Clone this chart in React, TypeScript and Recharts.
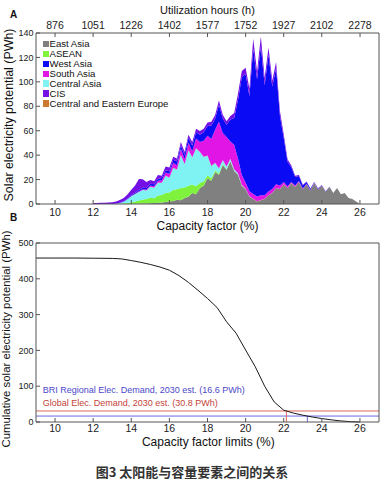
import React from "react";
import { AreaChart, Area, LineChart, Line, XAxis, YAxis, ReferenceLine } from "recharts";

const FONT = '"Liberation Sans", Arial, Helvetica, sans-serif';
const CJK = '"Noto Sans CJK SC", sans-serif';
const AXIS_COLOR = "#555";

// shared axes
const CF_DOMAIN = [9, 27];
const CF_TICKS = [10, 12, 14, 16, 18, 20, 22, 24, 26];
const HOURS_PER_PCT = 87.6;
const HOUR_TICKS = [876, 1051, 1226, 1402, 1577, 1752, 1927, 2102, 2278];
const POTENTIAL_TICKS = [0, 20, 40, 60, 80, 100, 120, 140];
const CUMULATIVE_TICKS = [0, 100, 200, 300, 400, 500];

// panel A: potential per capacity-factor bin (PWh)
const CF_BINS = [
  12.0, 12.2, 12.4, 12.6, 12.8, 13.0, 13.2, 13.4, 13.6, 13.8,
  14.0, 14.2, 14.4, 14.6, 14.8, 15.0, 15.2, 15.4, 15.6, 15.8,
  16.0, 16.2, 16.4, 16.6, 16.8, 17.0, 17.2, 17.4, 17.6, 17.8,
  18.0, 18.2, 18.4, 18.6, 18.8, 19.0, 19.2, 19.4, 19.6, 19.8,
  20.0, 20.2, 20.4, 20.6, 20.8, 21.0, 21.2, 21.4, 21.6, 21.8,
  22.0, 22.2, 22.4, 22.6, 22.8, 23.0, 23.2, 23.4, 23.6, 23.8,
  24.0, 24.2, 24.4, 24.6, 24.8, 25.0, 25.2, 25.4, 25.6, 25.8,
  26.0,
];
const EAST_ASIA = [
  0, 0, 0, 0, 0, 0, 0, 0, 0, 0.1,
  0.1, 0.2, 0.3, 0.4, 0.5, 0.6, 0.8, 1, 1.3, 1.6,
  2, 2.5, 3.5, 3, 5, 6, 9, 8, 13, 15,
  21, 19, 26, 24, 32, 28, 35, 27, 24, 15,
  12, 6, 4, 2, 3, 4, 7, 9, 13, 12,
  16, 13, 17, 14, 18, 12, 16, 11, 17, 12,
  15, 10, 14, 9, 13, 8, 9, 5, 4, 2,
  0,
];
const ASEAN = [
  0, 0, 0, 0, 0, 0, 0.1, 0.2, 0.4, 0.7,
  1.2, 1.8, 2.5, 3, 3.5, 4.5, 4, 6, 6, 7.5,
  7.5, 9, 8.5, 10, 8.5, 9, 7, 6.5, 4.5, 3.5,
  2.5, 2, 1.5, 1, 0.8, 0.5, 0.3, 0.2, 0.1, 0,
  0, 0, 0, 0, 0, 0, 0, 0, 0, 0,
  0, 0, 0, 0, 0, 0, 0, 0, 0, 0,
  0, 0, 0, 0, 0, 0, 0, 0, 0, 0,
  0,
];
const WEST_ASIA = [
  0, 0, 0, 0, 0, 0, 0, 0.2, 0.3, 0.4,
  0.6, 0.8, 1, 1.2, 1.2, 1.4, 1.5, 1.6, 1.8, 2,
  2.2, 2.5, 3, 3, 3.5, 4, 4.5, 5, 6, 7,
  8, 11, 9, 14, 12, 10, 18, 22, 48, 80,
  89, 78, 119, 96, 122, 90, 112, 84, 95, 57,
  36, 20, 12, 7, 4, 2.5, 1.5, 1, 0.6, 0.4,
  0.3, 0.2, 0.1, 0.1, 0, 0, 0, 0, 0, 0,
  0,
];
const SOUTH_ASIA = [
  0, 0, 0, 0, 0, 0, 0, 0, 0, 0.1,
  0.2, 0.3, 0.5, 0.6, 0.8, 1, 1.2, 1.5, 2, 2.5,
  3, 4, 3.5, 5, 4, 6, 5, 8, 8, 13,
  16, 22, 27, 38, 22, 24, 14, 20, 12, 8,
  5, 4, 4, 4, 4, 3, 3, 3, 3, 3,
  2, 1.5, 1, 1, 0.8, 0.6, 0.5, 0.3, 0.2, 0.1,
  0.1, 0.1, 0, 0, 0, 0, 0, 0, 0, 0,
  0,
];
const CENTRAL_ASIA = [
  0, 0, 0, 0, 0, 0, 0.2, 0.6, 1.5, 3,
  5, 6, 7, 8, 7, 9, 8.5, 10.5, 10, 14,
  12, 18, 16, 27, 19, 29, 22, 31, 25, 20,
  16, 10, 6, 4, 3, 2, 1.5, 1, 0.8, 0.5,
  0.3, 0.2, 0, 0, 0, 0, 0, 0, 0, 0,
  0, 0, 0, 0, 0, 0, 0, 0, 0, 0,
  0, 0, 0, 0, 0, 0, 0, 0, 0, 0,
  0,
];
const CIS = [
  0.8, 0.9, 1, 1.1, 1.3, 1.5, 1.8, 2.2, 2.8, 3.5,
  4.5, 6, 9, 7, 5, 3, 2.5, 3, 2, 3,
  3, 2.5, 2.5, 2.5, 2.5, 2.5, 3, 3, 3, 3,
  3, 3, 3, 3.5, 3, 3, 3, 4, 5, 5,
  5, 6, 8, 6, 8, 6, 6, 5, 5, 4,
  3, 2, 1.5, 1, 0.8, 0.5, 0.4, 0.3, 0.2, 0.2,
  0.1, 0.1, 0.1, 0, 0, 0, 0, 0, 0, 0,
  0,
];
const CEE = [
  0, 0, 0, 0, 0, 0, 0, 0, 0, 0,
  0.1, 0.1, 0.1, 0.1, 0.1, 0.1, 0.1, 0.1, 0.1, 0.1,
  0.2, 0.2, 0.2, 0.2, 0.2, 0.2, 0.2, 0.2, 0.2, 0.2,
  0.3, 0.3, 0.3, 0.3, 0.3, 0.3, 0.3, 0.3, 0.3, 0.3,
  0.2, 0.2, 0.2, 0.2, 0.2, 0.2, 0.2, 0.2, 0.2, 0.2,
  0.1, 0.1, 0.1, 0.1, 0.1, 0.1, 0.1, 0.1, 0.1, 0.1,
  0, 0, 0, 0, 0, 0, 0, 0, 0, 0,
  0,
];

// legend order
const REGIONS = [
  { key: "eastAsia", name: "East Asia", color: "#808080", values: EAST_ASIA },
  { key: "asean", name: "ASEAN", color: "#7ef23c", values: ASEAN },
  { key: "westAsia", name: "West Asia", color: "#0a0af5", values: WEST_ASIA },
  { key: "southAsia", name: "South Asia", color: "#e015e6", values: SOUTH_ASIA },
  { key: "centralAsia", name: "Central Asia", color: "#7ff2f4", values: CENTRAL_ASIA },
  { key: "cis", name: "CIS", color: "#7410e6", values: CIS },
  { key: "cee", name: "Central and Eastern Europe", color: "#cc7a30", values: CEE },
];
// bottom to top
const STACK_ORDER = ["eastAsia", "asean", "centralAsia", "cee", "southAsia", "westAsia", "cis"];

// panel B: cumulative potential above a capacity-factor limit
const LIMIT_CF = [
  9, 10, 11, 12, 13, 13.5, 14, 14.5, 15, 15.5, 16, 16.5, 17, 17.5, 18, 18.5,
  19, 19.5, 20, 20.5, 21, 21.5, 22, 22.5, 23, 23.5, 24, 24.5, 25, 25.5, 26,
];
const CUMULATIVE = [
  458, 458, 458, 457.5, 457, 455.5, 451, 446, 440, 433, 424, 409, 390, 368, 345, 320,
  280, 248, 201, 155, 100, 56, 33, 25, 19, 14, 9.5, 6, 3, 1, 0,
];
const BRI_DEMAND = 16.6;
const GLOBAL_DEMAND = 30.8;
const BRI_LIMIT = 23.24;
const GLOBAL_LIMIT = 22.14;

const histRows = CF_BINS.map((cf, i) => {
  const row: Record<string, number> = { cf, hours: cf * HOURS_PER_PCT };
  REGIONS.forEach((r) => (row[r.key] = r.values[i]));
  return row;
});
const cumRows = LIMIT_CF.map((cf, i) => ({ cf, pwh: CUMULATIVE[i] }));

const TICK_X = { fill: "#222", fontSize: 10.5, fontFamily: FONT };
const TICK_Y = { fill: "#222", fontSize: 9, fontFamily: FONT };
const AXIS = { stroke: AXIS_COLOR, tickSize: -4, interval: 0 as const };

function Txt({
  x,
  base,
  size,
  center,
  bold,
  color = "#111",
  family = FONT,
  children,
}: {
  x: number;
  base: number;
  size: number;
  center?: boolean;
  bold?: boolean;
  color?: string;
  family?: string;
  children: React.ReactNode;
}) {
  return (
    <div
      style={{
        position: "absolute",
        left: x,
        top: base - 0.85 * size,
        fontSize: size,
        lineHeight: `${size}px`,
        fontFamily: family,
        fontWeight: bold ? 700 : 400,
        color,
        whiteSpace: "nowrap",
        transform: center ? "translateX(-50%)" : undefined,
      }}
    >
      {children}
    </div>
  );
}

function VLabel({ cx, cy, size, children }: { cx: number; cy: number; size: number; children: React.ReactNode }) {
  return (
    <div
      style={{
        position: "absolute",
        left: cx,
        top: cy,
        fontSize: size,
        lineHeight: `${size}px`,
        fontFamily: FONT,
        color: "#111",
        whiteSpace: "nowrap",
        transform: "translate(-50%, -50%) rotate(-90deg)",
      }}
    >
      {children}
    </div>
  );
}

function RegionLegend() {
  return (
    <div style={{ position: "absolute", left: 42.5, top: 39, fontFamily: FONT, fontSize: 9.6 }}>
      {REGIONS.map((r) => (
        <div key={r.key} style={{ display: "flex", alignItems: "center", height: 9.95, lineHeight: "10px" }}>
          <span style={{ display: "inline-block", width: 6, height: 6.5, background: r.color, marginRight: 1 }} />
          <span style={{ color: "#111" }}>{r.name}</span>
        </div>
      ))}
    </div>
  );
}

function PotentialChart() {
  return (
    <AreaChart width={389} height={235} data={histRows} margin={{ top: 0, right: 0, bottom: 0, left: 0 }}>
      <XAxis
        xAxisId="cf"
        dataKey="cf"
        type="number"
        domain={CF_DOMAIN}
        ticks={CF_TICKS}
        height={31}
        tickMargin={9}
        tick={TICK_X}
        allowDataOverflow
        {...AXIS}
      />
      <XAxis
        xAxisId="hr"
        dataKey="hours"
        orientation="top"
        type="number"
        domain={[CF_DOMAIN[0] * HOURS_PER_PCT, CF_DOMAIN[1] * HOURS_PER_PCT]}
        ticks={HOUR_TICKS}
        height={33}
        tickMargin={8.5}
        tick={TICK_X}
        allowDataOverflow
        {...AXIS}
      />
      <YAxis yAxisId="p" type="number" domain={[0, 140]} ticks={POTENTIAL_TICKS} width={36} tickMargin={6.5} tick={TICK_Y} {...AXIS} />
      <YAxis yAxisId="pr" orientation="right" type="number" domain={[0, 140]} ticks={POTENTIAL_TICKS} width={10} tick={false} {...AXIS} />
      {STACK_ORDER.map((key) => {
        const r = REGIONS.find((g) => g.key === key)!;
        return (
          <Area
            key={key}
            xAxisId="cf"
            yAxisId="p"
            dataKey={key}
            name={r.name}
            stackId="regions"
            type="linear"
            stroke="none"
            fill={r.color}
            fillOpacity={1}
            isAnimationActive={false}
          />
        );
      })}
    </AreaChart>
  );
}

function CumulativeChart() {
  return (
    <LineChart width={389} height={222} data={cumRows} margin={{ top: 0, right: 0, bottom: 0, left: 0 }}>
      <XAxis
        xAxisId="cf"
        dataKey="cf"
        type="number"
        domain={CF_DOMAIN}
        ticks={CF_TICKS}
        height={30}
        tickMargin={7}
        tick={TICK_X}
        allowDataOverflow
        {...AXIS}
      />
      <XAxis
        xAxisId="top"
        dataKey="cf"
        orientation="top"
        type="number"
        domain={CF_DOMAIN}
        ticks={CF_TICKS}
        height={13}
        tick={false}
        allowDataOverflow
        {...AXIS}
      />
      <YAxis yAxisId="c" type="number" domain={[0, 500]} ticks={CUMULATIVE_TICKS} width={36} tickMargin={6.5} tick={TICK_Y} {...AXIS} />
      <YAxis yAxisId="cr" orientation="right" type="number" domain={[0, 500]} ticks={CUMULATIVE_TICKS} width={10} tick={false} {...AXIS} />
      <ReferenceLine xAxisId="cf" yAxisId="c" y={GLOBAL_DEMAND} stroke="#de6a5e" strokeWidth={1} />
      <ReferenceLine xAxisId="cf" yAxisId="c" y={BRI_DEMAND} stroke="#6b68dc" strokeWidth={1} />
      <ReferenceLine
        xAxisId="cf"
        yAxisId="c"
        segment={[{ x: GLOBAL_LIMIT, y: 0 }, { x: GLOBAL_LIMIT, y: GLOBAL_DEMAND }]}
        stroke="#de6a5e"
      />
      <ReferenceLine
        xAxisId="cf"
        yAxisId="c"
        segment={[{ x: BRI_LIMIT, y: 0 }, { x: BRI_LIMIT, y: BRI_DEMAND }]}
        stroke="#6b68dc"
      />
      <Line
        xAxisId="cf"
        yAxisId="c"
        dataKey="pwh"
        type="linear"
        stroke="#1a1a1a"
        strokeWidth={1}
        dot={false}
        isAnimationActive={false}
      />
    </LineChart>
  );
}

export default function App() {
  return (
    <div style={{ position: "absolute", left: 0, top: 0, width: 389, height: 485, background: "#fff", overflow: "hidden" }}>
      <div style={{ position: "absolute", left: 0, top: 0 }}>
        <PotentialChart />
      </div>
      <div style={{ position: "absolute", left: 0, top: 230 }}>
        <CumulativeChart />
      </div>
      <RegionLegend />

      <Txt x={10} base={18} size={10} bold>A</Txt>
      <Txt x={10} base={221.7} size={10} bold>B</Txt>
      <Txt x={207.5} base={14} size={11} center>Utilization hours (h)</Txt>
      <Txt x={207.5} base={230.6} size={12} center>Capacity factor (%)</Txt>
      <Txt x={208.3} base={446} size={12} center>Capacity factor limits (%)</Txt>
      <VLabel cx={8.7} cy={114.5} size={12.4}>Solar electricity potential (PWh)</VLabel>
      <VLabel cx={7} cy={338.5} size={11.4}>Cumulative solar electricity potential (PWh)</VLabel>

      <Txt x={42.7} base={394} size={9} color="#4b47c9">BRI Regional Elec. Demand, 2030 est. (16.6 PWh)</Txt>
      <Txt x={42.7} base={406.5} size={9} color="#c4433a">Global Elec. Demand, 2030 est. (30.8 PWh)</Txt>

      <div
        style={{
          position: "absolute",
          left: 192,
          top: 465,
          transform: "translateX(-50%)",
          fontFamily: CJK,
          fontWeight: 700,
          fontSize: 13,
          lineHeight: "13px",
          color: "#333",
          whiteSpace: "nowrap",
        }}
      >
        图3 太阳能与容量要素之间的关系
      </div>
    </div>
  );
}
